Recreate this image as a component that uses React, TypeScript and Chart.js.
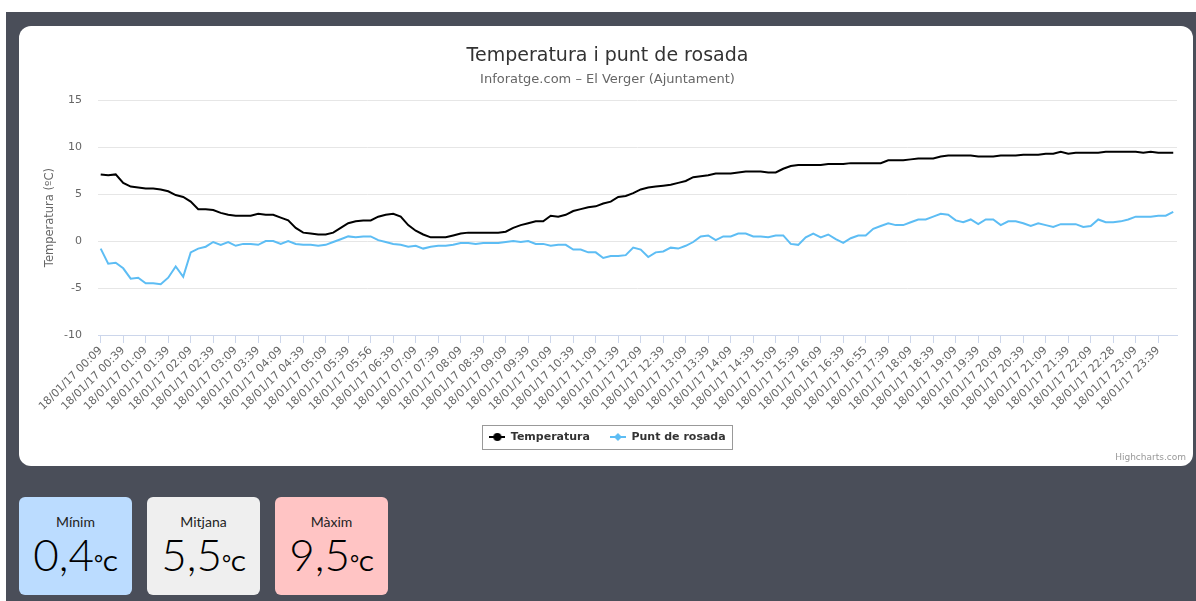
import React, { useEffect, useRef } from 'react';
import { Chart, registerables } from 'chart.js';

Chart.register(...registerables);

const FONT = '"DejaVu Sans", "Lucida Grande", Arial, sans-serif';
const BOX_FONT = 'Lato, "Noto Sans", sans-serif';

const chartTitle = 'Temperatura i punt de rosada';
const chartSubtitle = 'Inforatge.com – El Verger (Ajuntament)';
const yAxisTitle = 'Temperatura (ºC)';
const creditsText = 'Highcharts.com';

// x-axis tick labels (one every third reading)
const tickLabels = [
  '18/01/17 00:09', '18/01/17 00:39', '18/01/17 01:09', '18/01/17 01:39',
  '18/01/17 02:09', '18/01/17 02:39', '18/01/17 03:09', '18/01/17 03:39',
  '18/01/17 04:09', '18/01/17 04:39', '18/01/17 05:09', '18/01/17 05:39',
  '18/01/17 05:56', '18/01/17 06:39', '18/01/17 07:09', '18/01/17 07:39',
  '18/01/17 08:09', '18/01/17 08:39', '18/01/17 09:09', '18/01/17 09:39',
  '18/01/17 10:09', '18/01/17 10:39', '18/01/17 11:09', '18/01/17 11:39',
  '18/01/17 12:09', '18/01/17 12:39', '18/01/17 13:09', '18/01/17 13:39',
  '18/01/17 14:09', '18/01/17 14:39', '18/01/17 15:09', '18/01/17 15:39',
  '18/01/17 16:09', '18/01/17 16:39', '18/01/17 16:55', '18/01/17 17:39',
  '18/01/17 18:09', '18/01/17 18:39', '18/01/17 19:09', '18/01/17 19:39',
  '18/01/17 20:09', '18/01/17 20:39', '18/01/17 21:09', '18/01/17 21:39',
  '18/01/17 22:09', '18/01/17 22:28', '18/01/17 23:09', '18/01/17 23:39',
];
const readingsPerTick = 3;

const temperatura = [
  7.1, 7.0, 7.1, 6.2, 5.8, 5.7, 5.6, 5.6, 5.5, 5.3,
  4.9, 4.7, 4.2, 3.4, 3.4, 3.3, 3.0, 2.8, 2.7, 2.7,
  2.7, 2.9, 2.8, 2.8, 2.5, 2.2, 1.4, 0.9, 0.8, 0.7,
  0.7, 0.9, 1.4, 1.9, 2.1, 2.2, 2.2, 2.6, 2.8, 2.9,
  2.6, 1.7, 1.1, 0.7, 0.4, 0.4, 0.4, 0.6, 0.8, 0.9,
  0.9, 0.9, 0.9, 0.9, 1.0, 1.4, 1.7, 1.9, 2.1, 2.1,
  2.7, 2.6, 2.8, 3.2, 3.4, 3.6, 3.7, 4.0, 4.2, 4.7,
  4.8, 5.1, 5.5, 5.7, 5.8, 5.9, 6.0, 6.2, 6.4, 6.8,
  6.9, 7.0, 7.2, 7.2, 7.2, 7.3, 7.4, 7.4, 7.4, 7.3,
  7.3, 7.7, 8.0, 8.1, 8.1, 8.1, 8.1, 8.2, 8.2, 8.2,
  8.3, 8.3, 8.3, 8.3, 8.3, 8.6, 8.6, 8.6, 8.7, 8.8,
  8.8, 8.8, 9.0, 9.1, 9.1, 9.1, 9.1, 9.0, 9.0, 9.0,
  9.1, 9.1, 9.1, 9.2, 9.2, 9.2, 9.3, 9.3, 9.5, 9.3,
  9.4, 9.4, 9.4, 9.4, 9.5, 9.5, 9.5, 9.5, 9.5, 9.4,
  9.5, 9.4, 9.4, 9.4,
];

const puntRosada = [
  -0.8, -2.4, -2.3, -2.9, -4.0, -3.9, -4.5, -4.5, -4.6, -3.9,
  -2.7, -3.8, -1.2, -0.8, -0.6, -0.1, -0.4, -0.1, -0.5, -0.3,
  -0.3, -0.4, 0.0, 0.0, -0.3, 0.0, -0.3, -0.4, -0.4, -0.5,
  -0.4, -0.1, 0.2, 0.5, 0.4, 0.5, 0.5, 0.1, -0.1, -0.3,
  -0.4, -0.6, -0.5, -0.8, -0.6, -0.5, -0.5, -0.4, -0.2, -0.2,
  -0.3, -0.2, -0.2, -0.2, -0.1, 0.0, -0.1, 0.0, -0.3, -0.3,
  -0.5, -0.4, -0.4, -0.9, -0.9, -1.2, -1.2, -1.8, -1.6, -1.6,
  -1.5, -0.7, -0.9, -1.7, -1.2, -1.1, -0.7, -0.8, -0.5, -0.1,
  0.5, 0.6, 0.1, 0.5, 0.5, 0.8, 0.8, 0.5, 0.5, 0.4,
  0.6, 0.6, -0.3, -0.4, 0.4, 0.8, 0.4, 0.7, 0.2, -0.2,
  0.3, 0.6, 0.6, 1.3, 1.6, 1.9, 1.7, 1.7, 2.0, 2.3,
  2.3, 2.6, 2.9, 2.8, 2.2, 2.0, 2.3, 1.8, 2.3, 2.3,
  1.7, 2.1, 2.1, 1.9, 1.6, 1.9, 1.7, 1.5, 1.8, 1.8,
  1.8, 1.5, 1.6, 2.3, 2.0, 2.0, 2.1, 2.3, 2.6, 2.6,
  2.6, 2.7, 2.7, 3.1,
];

const seriesNames = ['Temperatura', 'Punt de rosada'];
const seriesColors = ['#000000', '#5dbdf4'];

const yMin = -10;
const yMax = 15;
const yStep = 5;

const statLabels = ['Mínim', 'Mitjana', 'Màxim'];
const statValues = ['0,4', '5,5', '9,5'];
const statUnit = '°C';
const statColors = ['#bbdcff', '#efefef', '#ffc4c4'];

function makeSymbol(color: string, shape: 'circle' | 'diamond') {
  const c = document.createElement('canvas');
  c.width = 16;
  c.height = 10;
  const ctx = c.getContext('2d')!;
  ctx.strokeStyle = color;
  ctx.fillStyle = color;
  ctx.lineWidth = 2;
  ctx.beginPath();
  ctx.moveTo(0, 5);
  ctx.lineTo(16, 5);
  ctx.stroke();
  ctx.beginPath();
  if (shape === 'circle') {
    ctx.arc(8, 5, 4, 0, Math.PI * 2);
  } else {
    ctx.moveTo(8, 1);
    ctx.lineTo(12, 5);
    ctx.lineTo(8, 9);
    ctx.lineTo(4, 5);
    ctx.closePath();
  }
  ctx.fill();
  return c;
}

const decorPlugin = {
  id: 'decor',
  afterDraw(chart: any) {
    const ctx = chart.ctx;
    const lg = chart.legend;
    if (lg && lg.legendHitBoxes && lg.legendHitBoxes.length) {
      const hbs = lg.legendHitBoxes;
      const l = Math.min(...hbs.map((h: any) => h.left)) - 7;
      const r = Math.max(...hbs.map((h: any) => h.left + h.width)) + 7;
      const cy = hbs[0].top + hbs[0].height / 2;
      ctx.save();
      ctx.strokeStyle = '#999999';
      ctx.lineWidth = 1;
      ctx.strokeRect(Math.round(l) + 0.5, Math.round(cy - 12) + 0.5, Math.round(r - l), 24);
      ctx.restore();
    }
    ctx.save();
    ctx.font = `9px ${FONT}`;
    ctx.fillStyle = '#999999';
    ctx.textAlign = 'right';
    ctx.textBaseline = 'middle';
    ctx.fillText(creditsText, chart.width - 7, chart.height - 8);
    ctx.restore();
  },
};

function TempChart() {
  const ref = useRef<HTMLCanvasElement | null>(null);
  useEffect(() => {
    if (!ref.current) return;
    const symbols = [makeSymbol(seriesColors[0], 'circle'), makeSymbol(seriesColors[1], 'diamond')];
    const series = [temperatura, puntRosada];
    const chart = new Chart(ref.current, {
      type: 'line',
      data: {
        datasets: series.map((vals, s) => ({
          label: seriesNames[s],
          data: vals.map((v, i) => ({ x: i, y: v })),
          borderColor: seriesColors[s],
          backgroundColor: seriesColors[s],
          borderWidth: 2,
          pointRadius: 0,
          pointHoverRadius: 0,
          pointStyle: symbols[s] as any,
          tension: 0,
          fill: false,
        })),
      },
      options: {
        animation: false,
        responsive: false,
        maintainAspectRatio: false,
        events: [],
        layout: { padding: { left: 19, right: 16, top: 12, bottom: 13.5 } },
        scales: {
          x: {
            type: 'linear',
            bounds: 'data',
            min: -0.36,
            max: temperatura.length - 0.5,
            afterBuildTicks: (scale: any) => {
              scale.ticks = tickLabels.map((_, k) => ({ value: k * readingsPerTick }));
            },
            afterFit: (scale: any) => {
              scale.height = 76.5;
            },
            ticks: {
              autoSkip: false,
              maxRotation: 45,
              minRotation: 45,
              padding: 1,
              color: '#666666',
              font: { family: FONT, size: 11 },
              callback: (_v: any, index: number) => tickLabels[index],
            },
            grid: {
              display: true,
              drawOnChartArea: false,
              drawTicks: true,
              tickLength: 8,
              color: '#ccd6eb',
            },
            border: { display: true, color: '#ccd6eb', width: 1 },
          },
          y: {
            min: yMin,
            max: yMax,
            afterFit: (scale: any) => {
              scale.width = 60;
            },
            ticks: {
              stepSize: yStep,
              padding: 16,
              color: '#666666',
              font: { family: FONT, size: 11 },
            },
            grid: { color: '#e6e6e6', drawTicks: false, lineWidth: 1 },
            border: { display: false },
            title: {
              display: true,
              text: yAxisTitle,
              color: '#666666',
              font: { family: FONT, size: 11.5 },
              padding: { top: 5, bottom: 0 },
            },
          },
        },
        plugins: {
          title: {
            display: true,
            text: chartTitle,
            color: '#333333',
            font: { family: FONT, size: 19, weight: 'normal' },
            padding: { top: 7, bottom: 1 },
          },
          subtitle: {
            display: true,
            text: chartSubtitle,
            color: '#666666',
            font: { family: FONT, size: 13, weight: 'normal' },
            padding: { top: 3.5, bottom: 12.3 },
          },
          legend: {
            display: true,
            position: 'bottom',
            labels: {
              usePointStyle: true,
              pointStyleWidth: 16,
              padding: 20,
              color: '#333333',
              font: { family: FONT, size: 11, weight: 'bold' },
            },
          },
          tooltip: { enabled: false },
        },
      } as any,
      plugins: [decorPlugin],
    });
    return () => chart.destroy();
  }, []);
  return <canvas ref={ref} width={1174} height={440} style={{ display: 'block' }} />;
}

export default function App() {
  return (
    <div
      style={{
        position: 'fixed',
        left: 6,
        top: 12,
        width: 1190,
        height: 589,
        background: '#4a4e59',
        overflow: 'hidden',
      }}
    >
      <div
        style={{
          position: 'absolute',
          left: 13,
          top: 14,
          width: 1174,
          height: 440,
          background: '#ffffff',
          borderRadius: 12,
          overflow: 'hidden',
        }}
      >
        <TempChart />
      </div>
      {statLabels.map((lab, i) => (
        <div
          key={lab}
          style={{
            position: 'absolute',
            left: 13 + i * 128,
            top: 485,
            width: 113,
            height: 98,
            background: statColors[i],
            borderRadius: 6,
            fontFamily: BOX_FONT,
          }}
        >
          <div
            style={{
              position: 'absolute',
              left: 0,
              right: 0,
              top: 16,
              textAlign: 'center',
              fontSize: 14,
              lineHeight: '18px',
              color: '#222222',
            }}
          >
            {lab}
          </div>
          <div
            style={{
              position: 'absolute',
              left: 0,
              right: 0,
              top: 31,
              textAlign: 'center',
              fontSize: 44,
              lineHeight: 1.2,
              fontWeight: 300,
              color: '#000000',
              whiteSpace: 'nowrap',
            }}
          >
            {statValues[i]}
            <span style={{ fontSize: 22, fontWeight: 400 }}>{statUnit}</span>
          </div>
        </div>
      ))}
    </div>
  );
}
